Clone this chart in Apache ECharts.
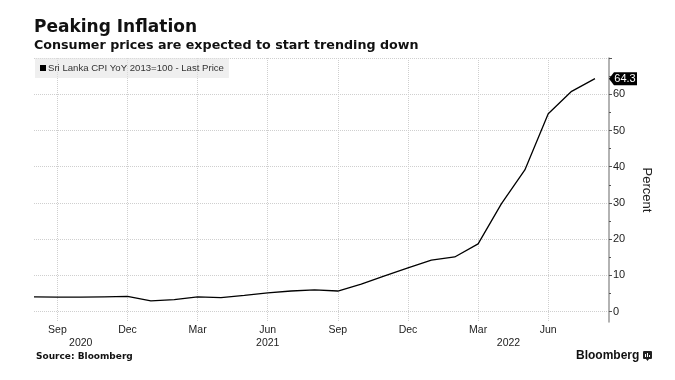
<!DOCTYPE html>
<html>
<head>
<meta charset="utf-8">
<script src="https://cdn.jsdelivr.net/npm/echarts@6/dist/echarts.min.js"></script>
<style>
html,body{margin:0;padding:0;background:#fff;}
#chart{width:675px;height:380px;}
</style>
</head>
<body>
<div id="chart"></div>
<script>
// Monthly categories (Aug 2020 .. Aug 2022)
var categories = ['Aug 2020','Sep 2020','Oct 2020','Nov 2020','Dec 2020',
  'Jan 2021','Feb 2021','Mar 2021','Apr 2021','May 2021','Jun 2021','Jul 2021','Aug 2021','Sep 2021','Oct 2021','Nov 2021','Dec 2021',
  'Jan 2022','Feb 2022','Mar 2022','Apr 2022','May 2022','Jun 2022','Jul 2022','Aug 2022'];
// Sri Lanka CPI YoY (%)
var cpiValues = [4.1, 4.0, 4.0, 4.1, 4.2,
  3.0, 3.3, 4.1, 3.9, 4.5, 5.2, 5.7, 6.0, 5.7, 7.6, 9.9, 12.1,
  14.2, 15.1, 18.7, 29.8, 39.1, 54.6, 60.8, 64.3];
// Month tick labels on the x axis
var monthTickCats = ['Sep 2020','Dec 2020','Mar 2021','Jun 2021','Sep 2021','Dec 2021','Mar 2022','Jun 2022'];
var monthTickLabels = ['Sep','Dec','Mar','Jun','Sep','Dec','Mar','Jun'];
// Year labels
var yearLabels = ['2020','2021','2022'];
// Y tick values (major and minor)
var yMajorTicks = [0, 10, 20, 30, 40, 50, 60];
var yMinorTicks = [5, 15, 25, 35, 45, 55, 65];

var seriesName = 'Sri Lanka CPI YoY 2013=100 - Last Price';
var lastValueLabel = '64.3';

var data = cpiValues.map(function (v, i) { return [i, v]; });
var monthTickIdx = monthTickCats.map(function (c) { return categories.indexOf(c); });
var yearTickIdx = [categories.indexOf('Oct 2020'), categories.indexOf('Jun 2021'), categories.indexOf('Apr 2022') + 0.3];

var chart = echarts.init(document.getElementById('chart'), null, {renderer: 'canvas'});
var yBase = {
  type: 'value', position: 'right', min: -2.85, max: 70
};
var option = {
  animation: false,
  backgroundColor: '#fff',
  title: [
    {text: 'Peaking Inflation', left: 34, top: 19, padding: 0,
     textStyle: {fontFamily: 'DejaVu Sans', fontWeight: 'bold', fontSize: 17, color: '#111'}},
    {text: 'Consumer prices are expected to start trending down', left: 34, top: 39.5, padding: 0,
     textStyle: {fontFamily: 'DejaVu Sans', fontWeight: 'bold', fontSize: 12.7, color: '#111'}},
    {text: 'Source: Bloomberg', left: 36, top: 352, padding: 0,
     textStyle: {fontFamily: 'DejaVu Sans', fontWeight: 'bold', fontSize: 9, color: '#111'}}
  ],
  legend: {
    left: 35, top: 58, padding: [5, 5, 5, 5],
    backgroundColor: 'rgba(225,225,225,0.55)',
    itemWidth: 6, itemHeight: 6, itemGap: 0,
    icon: 'rect',
    textStyle: {fontFamily: 'Liberation Sans', fontSize: 9.6, color: '#333', padding: [0, 0, 0, -3]},
    data: [{name: seriesName, itemStyle: {color: '#000'}}]
  },
  grid: {left: 34, right: 66, top: 58, bottom: 58, containLabel: false},
  xAxis: [
    {type: 'value', min: 0, max: 24.6, position: 'bottom',
     axisLine: {show: false, onZero: false}, axisTick: {show: false, customValues: monthTickIdx},
     axisLabel: {customValues: monthTickIdx, margin: 3, fontFamily: 'Liberation Sans', fontSize: 10.5, color: '#222',
       formatter: function (v) { var k = monthTickIdx.indexOf(Math.round(v)); return k >= 0 ? monthTickLabels[k] : ''; }},
     splitLine: {show: true, lineStyle: {color: '#cfcfcf', type: [1, 1], width: 1}}},
    {type: 'value', min: 0, max: 24.6, position: 'bottom',
     axisLine: {show: false, onZero: false}, axisTick: {show: false, customValues: yearTickIdx},
     axisLabel: {customValues: yearTickIdx, margin: 15.5, fontFamily: 'Liberation Sans', fontSize: 10.5, color: '#222',
       formatter: function (v) { var best = 0; for (var i = 0; i < yearTickIdx.length; i++) { if (Math.abs(yearTickIdx[i] - v) < Math.abs(yearTickIdx[best] - v)) best = i; } return yearLabels[best]; }},
     splitLine: {show: false}}
  ],
  yAxis: [
    Object.assign({}, yBase, {
      name: 'Percent', nameLocation: 'middle', nameRotate: -90, nameGap: 31,
      nameTextStyle: {fontFamily: 'Liberation Sans', fontSize: 13, color: '#222'},
      axisLine: {show: true, onZero: false, lineStyle: {color: '#9a9a9a', width: 1.5}},
      axisTick: {show: true, inside: false, length: 3, lineStyle: {color: '#555'}, customValues: yMajorTicks.concat([70])},
      axisLabel: {customValues: yMajorTicks, margin: 4, fontFamily: 'Liberation Sans', fontSize: 11, color: '#222'},
      splitLine: {show: true, lineStyle: {color: '#cfcfcf', type: [1, 1], width: 1}}
    }),
    Object.assign({}, yBase, {
      axisLine: {show: false, onZero: false},
      axisTick: {show: true, inside: false, length: 2, lineStyle: {color: '#555'}, customValues: yMinorTicks},
      axisLabel: {show: false},
      splitLine: {show: false}
    })
  ],
  series: [{
    name: seriesName, type: 'line', data: data, xAxisIndex: 0, yAxisIndex: 0,
    showSymbol: false, symbol: 'none',
    lineStyle: {color: '#000', width: 1.3},
    itemStyle: {color: '#000'},
    markPoint: {
      symbol: 'path://M0,6 L5,0 L28,0 L28,12 L5,12 Z',
      symbolSize: [28, 13],
      symbolOffset: [28, 0],
      silent: true,
      itemStyle: {color: '#000'},
      label: {show: true, color: '#fff', fontFamily: 'Liberation Sans', fontSize: 11, offset: [2, 0],
        formatter: function () { return lastValueLabel; }},
      data: [{coord: [cpiValues.length - 1, cpiValues[cpiValues.length - 1]]}]
    }
  }],
  graphic: [
    {type: 'text', left: 576, top: 350, style: {text: 'Bloomberg', fontFamily: 'Liberation Sans', fontWeight: 'bold', fontSize: 12, fill: '#111'}},
    {type: 'group', left: 643, top: 351, children: [
      {type: 'rect', shape: {x: 0, y: 0, width: 9, height: 8, r: 1}, style: {fill: '#222'}},
      {type: 'polygon', shape: {points: [[3, 8], [6, 8], [4.5, 10]]}, style: {fill: '#222'}},
      {type: 'rect', shape: {x: 2, y: 3, width: 1, height: 3}, style: {fill: '#fff'}},
      {type: 'rect', shape: {x: 4, y: 2, width: 1, height: 4}, style: {fill: '#fff'}},
      {type: 'rect', shape: {x: 6, y: 4, width: 1, height: 2}, style: {fill: '#fff'}}
    ]}
  ]
};
chart.setOption(option);
</script>
</body>
</html>
